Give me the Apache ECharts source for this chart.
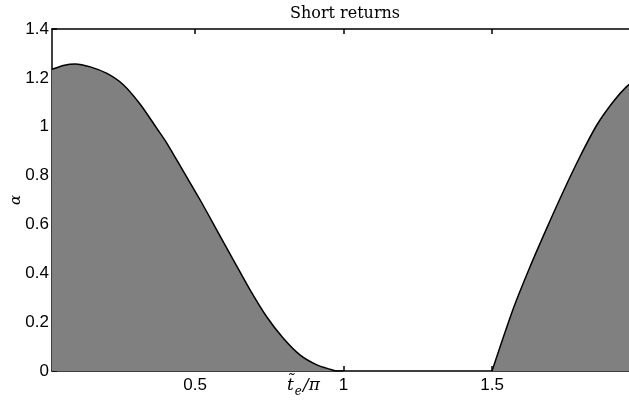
<!DOCTYPE html>
<html>
<head>
<meta charset="utf-8">
<script src="https://cdn.jsdelivr.net/npm/echarts@6/dist/echarts.min.js"></script>
<style>
  html, body { margin: 0; padding: 0; background: #fff; }
  #chart { width: 629px; height: 403px; }
</style>
</head>
<body>
<div id="chart"></div>
<script>
// Normalised return time t_e / pi and boundary alpha, first lobe
const tePiLeft = [0.018, 0.06, 0.096, 0.147, 0.203, 0.259, 0.315, 0.371, 0.405, 0.461,
  0.517, 0.573, 0.629, 0.685, 0.741, 0.797, 0.854, 0.910, 0.955, 0.98, 1.0];
const alphaLeft = [1.235, 1.252, 1.257, 1.245, 1.218, 1.171, 1.092, 0.993, 0.932, 0.816,
  0.700, 0.577, 0.454, 0.332, 0.222, 0.134, 0.065, 0.025, 0.007, 0, 0];
// Second lobe
const tePiRight = [1.5, 1.572, 1.628, 1.684, 1.740, 1.796, 1.853, 1.908, 1.953, 2.0];
const alphaRight = [0, 0.257, 0.427, 0.584, 0.735, 0.877, 1.007, 1.102, 1.164, 1.21];
const xTicks = [0.5, 1, 1.5];

const chart = echarts.init(document.getElementById('chart'), null, { renderer: 'canvas' });

const axisBlack = { show: true, lineStyle: { color: '#000', width: 1.5 } };
const tickStyle = { color: '#000', width: 1.5 };
const richBase = { fontFamily: 'DejaVu Serif', fontStyle: 'italic', fontWeight: 'normal', color: '#000', verticalAlign: 'bottom' };

const lobe = (xs, ys) => ({
  type: 'line',
  data: xs.map((x, i) => [x, ys[i]]),
  showSymbol: false,
  smooth: 0.3,
  lineStyle: { color: '#000', width: 1.5 },
  areaStyle: { color: '#808080', opacity: 1 },
  z: 1
});

chart.setOption({
  animation: false,
  backgroundColor: '#fff',
  title: [
    {
      text: 'Short returns',
      left: 290, top: 6, padding: 0,
      textStyle: { fontFamily: 'DejaVu Serif', fontSize: 16, fontWeight: 'normal', color: '#000' }
    },
    {
      text: '{t|t\u0303}{e|e}{s|/\u03c0}',
      left: 287, top: 377, padding: 0,
      textStyle: {
        fontWeight: 'normal',
        rich: {
          t: Object.assign({ fontSize: 17, padding: [0, 1, 4, 0] }, richBase),
          e: Object.assign({ fontSize: 12 }, richBase),
          s: Object.assign({ fontSize: 17, padding: [0, 0, 4, 1] }, richBase)
        }
      }
    }
  ],
  grid: { left: 52, right: -11.5, top: 29, bottom: 32, containLabel: false, outerBoundsMode: 'none' },
  xAxis: [
    {
      type: 'value', position: 'bottom', min: 0.018, max: 2,
      axisLine: axisBlack,
      axisTick: { show: true, inside: true, length: 5, customValues: xTicks, lineStyle: tickStyle },
      axisLabel: { customValues: xTicks, margin: 6, color: '#000', fontFamily: 'Liberation Sans', fontSize: 17,
        formatter: v => String(+v.toFixed(2)) },
      splitLine: { show: false }
    },
    {
      type: 'value', position: 'top', min: 0.018, max: 2,
      axisLine: axisBlack,
      axisTick: { show: true, inside: true, length: 5, customValues: xTicks, lineStyle: tickStyle },
      axisLabel: { show: false },
      splitLine: { show: false }
    }
  ],
  yAxis: {
    type: 'value', min: 0, max: 1.4, interval: 0.2,
    name: '\u03b1', nameLocation: 'middle', nameGap: 28, nameRotate: 90, nameMoveOverlap: false,
    nameTextStyle: { fontFamily: 'DejaVu Serif', fontStyle: 'italic', fontSize: 15, color: '#000' },
    axisLine: axisBlack,
    axisTick: { show: true, inside: true, length: 5, lineStyle: tickStyle },
    axisLabel: { margin: 3, color: '#000', fontFamily: 'Liberation Sans', fontSize: 17,
      formatter: v => String(+v.toFixed(2)) },
    splitLine: { show: false }
  },
  series: [lobe(tePiLeft, alphaLeft), lobe(tePiRight, alphaRight)]
});
</script>
</body>
</html>
